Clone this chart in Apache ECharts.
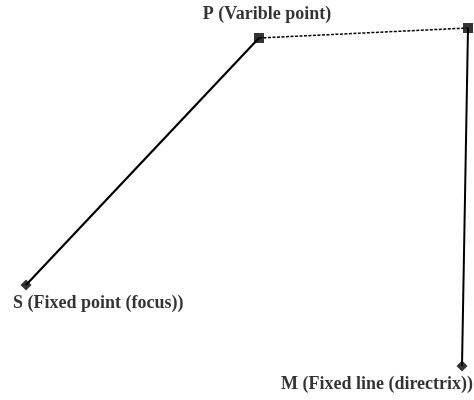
<!DOCTYPE html>
<html lang="en">
<head>
    <meta charset="UTF-8">
    <title>Focus and directrix</title>
    <script src="https://cdn.jsdelivr.net/npm/echarts@6/dist/echarts.min.js"></script>
</head>
<body style="margin:0">
<div id="main" style="width: 474px;height:400px;"></div>

<script type="text/javascript">

    // points (x right, y up)
    var pointNames = ['S (Fixed point (focus))', 'P (Varible point)', '', 'M (Fixed line (directrix))'];
    var pointX = [26, 259, 468, 462];
    var pointY = [115, 362, 372, 34];
    var pointSymbols = ['diamond', 'rect', 'rect', 'diamond'];

    var labelStyles = [
        {show: true, position: 'bottom', align: 'left', offset: [-13, -1]},
        {show: true, position: 'top', offset: [8, -5]},
        {show: false},
        {show: true, position: 'bottom', offset: [-85, -1]}
    ];

    function pt(i) {
        return [pointX[i], pointY[i]];
    }

    var points = [];
    for (var i = 0; i < pointX.length; i++) {
        points.push({
            name: pointNames[i],
            value: pt(i),
            symbol: pointSymbols[i],
            symbolSize: pointSymbols[i] === 'rect' ? 10 : 11,
            label: labelStyles[i]
        });
    }

    var myChart = echarts.init(document.getElementById('main'));
    myChart.setOption({
        animation: false,
        grid: {left: 0, right: 0, top: 0, bottom: 0},
        xAxis: {type: 'value', min: 0, max: 474, show: false},
        yAxis: {type: 'value', min: 0, max: 400, show: false},
        series: [{
            type: 'line',
            data: [pt(0), pt(1)],
            symbol: 'none',
            lineStyle: {color: '#000', width: 2.2}
        }, {
            type: 'line',
            data: [pt(1), pt(2)],
            symbol: 'none',
            lineStyle: {color: '#000', width: 1.5, type: [3, 1.5]}
        }, {
            type: 'line',
            data: [pt(2), pt(3)],
            symbol: 'none',
            lineStyle: {color: '#000', width: 2}
        }, {
            type: 'scatter',
            data: points,
            itemStyle: {color: '#000'},
            label: {
                formatter: '{b}',
                color: '#000',
                fontFamily: "'Liberation Serif', 'DejaVu Serif', serif",
                fontWeight: 'bold',
                fontSize: 18
            }
        }]
    });

</script>
</body>
</html>
